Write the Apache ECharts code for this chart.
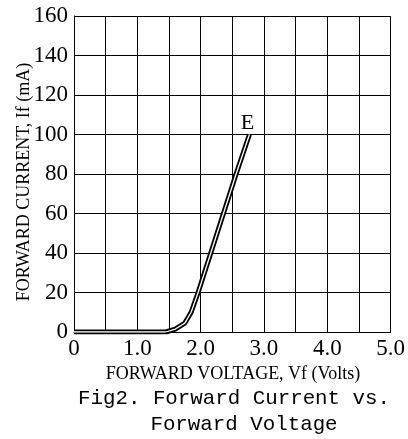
<!DOCTYPE html>
<html>
<head>
<meta charset="utf-8">
<script src="https://cdn.jsdelivr.net/npm/echarts@6/dist/echarts.min.js"></script>
<style>
  html, body { margin: 0; padding: 0; background: #fff; }
  #chart { width: 408px; height: 439px; }
</style>
</head>
<body>
<div id="chart"></div>
<script>
// forward voltage (V) vs forward current (mA)
var voltage = [0, 1.45, 1.6, 1.75, 1.85, 1.96, 2.16, 2.36, 2.56, 2.77];
var current = [0, 0, 1.5, 4.5, 10, 20, 40, 60, 80, 100];
var curveName = 'E';

var pts = voltage.map(function (v, i) { return [v, current[i]]; });
var last = pts[pts.length - 1];

var chart = echarts.init(document.getElementById('chart'));
var serif = 'Liberation Serif';

chart.setOption({
  animation: false,
  backgroundColor: '#fff',
  grid: { left: 74, top: 16, width: 318, height: 316 },
  graphic: [{
    type: 'text', x: 24, y: 182, rotation: Math.PI / 2,
    style: { text: 'FORWARD CURRENT, If (mA)', font: '18px "Liberation Serif"', fill: '#000',
      align: 'center', verticalAlign: 'middle' }
  }, {
    type: 'text', x: 233, y: 374,
    style: { text: 'FORWARD VOLTAGE, Vf (Volts)', font: '18px "Liberation Serif"', fill: '#000',
      align: 'center', verticalAlign: 'middle' }
  }, {
    type: 'text', x: 234, y: 398,
    style: { text: 'Fig2. Forward Current vs.', font: '20.8px "Liberation Mono"', fill: '#000',
      align: 'center', verticalAlign: 'middle' }
  }, {
    type: 'text', x: 244, y: 424,
    style: { text: 'Forward Voltage', font: '20.8px "Liberation Mono"', fill: '#000',
      align: 'center', verticalAlign: 'middle' }
  }],
  xAxis: {
    type: 'value', min: 0, max: 5, interval: 0.5,
    axisLine: { show: true, lineStyle: { color: '#000', width: 1 } },
    axisTick: { show: false },
    splitLine: { show: true, lineStyle: { color: '#000', width: 1 } },
    axisLabel: {
      fontFamily: serif, fontSize: 23, color: '#000', margin: 5,
      showMaxLabel: true,
      formatter: function (v) {
        if (Math.abs(v - Math.round(v)) > 1e-6) return '';
        return v === 0 ? '0' : v.toFixed(1);
      }
    }
  },
  yAxis: {
    type: 'value', min: 0, max: 160, interval: 20,
    axisLine: { show: true, lineStyle: { color: '#000', width: 1 } },
    axisTick: { show: false },
    splitLine: { show: true, lineStyle: { color: '#000', width: 1 } },
    axisLabel: { fontFamily: serif, fontSize: 23, color: '#000', margin: 6 }
  },
  series: [{
    type: 'line', data: pts, symbol: 'none', silent: true,
    lineStyle: { color: '#000', width: 5 }, z: 3,
    markPoint: {
      symbol: 'circle', symbolSize: 0, silent: true,
      data: [{ coord: last, label: { show: true, formatter: curveName, position: 'top',
        offset: [-2, 5], fontFamily: serif, fontSize: 22, color: '#000' } }]
    }
  }, {
    type: 'line', data: pts, symbol: 'none', silent: true,
    lineStyle: { color: '#fff', width: 1.3 }, z: 4
  }]
});
</script>
</body>
</html>
